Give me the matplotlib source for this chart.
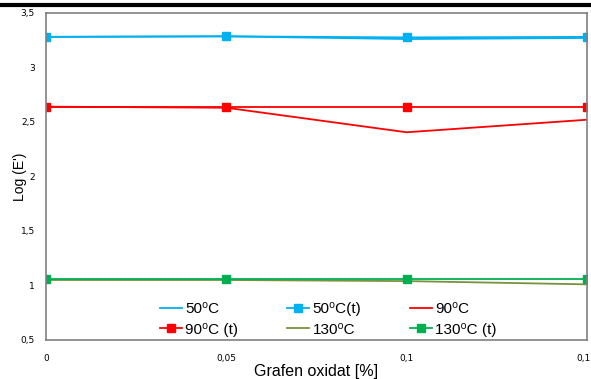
import matplotlib
matplotlib.use("Agg")
import matplotlib.pyplot as plt
from matplotlib.lines import Line2D

x = [0, 0.05, 0.1, 0.15]
s50 = [3.28, 3.285, 3.26, 3.27]
s50t = [3.28, 3.285, 3.275, 3.28]
s90 = [2.64, 2.63, 2.405, 2.52]
s90t = [2.64, 2.64, 2.64, 2.64]
s130 = [1.05, 1.05, 1.04, 1.01]
s130t = [1.055, 1.055, 1.055, 1.055]
labels = ["50⁰C", "50⁰C(t)", "90⁰C", "90⁰C (t)", "130⁰C", "130⁰C (t)"]
xticks = [0, 0.05, 0.1, 0.15]
xticklabels = ["0", "0,05", "0,1", "0,15"]
yticks = [0.5, 1, 1.5, 2, 2.5, 3, 3.5]
yticklabels = ["0,5", "1", "1,5", "2", "2,5", "3", "3,5"]

blue = "#00B0F0"
red = "#FF0000"
olive = "#77933C"
green = "#00B050"

fig = plt.figure(figsize=(5.91, 3.79), dpi=100)
ax = fig.add_axes([0.078, 0.103, 0.915, 0.863])

h = []
h += ax.plot(x, s50, color=blue, lw=1.3, label=labels[0])
h += ax.plot(x, s50t, color=blue, lw=1.3, marker="s", ms=6, label=labels[1])
h += ax.plot(x, s90, color=red, lw=1.3, label=labels[2])
h += ax.plot(x, s90t, color=red, lw=1.3, marker="s", ms=6, label=labels[3])
h += ax.plot(x, s130, color=olive, lw=1.3, label=labels[4])
h += ax.plot(x, s130t, color=green, lw=1.3, marker="s", ms=6, label=labels[5])

ax.set_xlim(0, 0.15)
ax.set_ylim(0.5, 3.5)
ax.set_xticks(xticks)
ax.set_xticklabels(xticklabels)
ax.set_yticks(yticks)
ax.set_yticklabels(yticklabels)
ax.tick_params(length=0, labelsize=6.5)
ax.tick_params(axis="x", pad=10)
ax.tick_params(axis="y", pad=8)
for sp in ax.spines.values():
    sp.set_color("#808080")
    sp.set_linewidth(1.2)

ax.set_xlabel("Grafen oxidat [%]", fontsize=11.5, family="Liberation Sans")
ax.xaxis.set_label_coords(0.5, -0.072)
ax.set_ylabel("Log (E')", fontsize=10, family="Liberation Sans")
ax.yaxis.set_label_coords(-0.036, 0.5)

order = [0, 3, 1, 4, 2, 5]
leg = ax.legend([h[i] for i in order], [labels[i] for i in order],
                ncol=3, loc="lower left",
                bbox_to_anchor=(148 / 591, 30 / 379), bbox_transform=fig.transFigure,
                frameon=False,
                prop={"family": ["Liberation Sans", "DejaVu Sans"], "size": 11},
                handlelength=1.45, handletextpad=0.2,
                columnspacing=3.2, labelspacing=0.45, borderpad=0.3)

fig.add_artist(Line2D([0, 1], [0.988, 0.988], transform=fig.transFigure,
                      color="black", lw=3))

fig.savefig("out.png", dpi=100)
